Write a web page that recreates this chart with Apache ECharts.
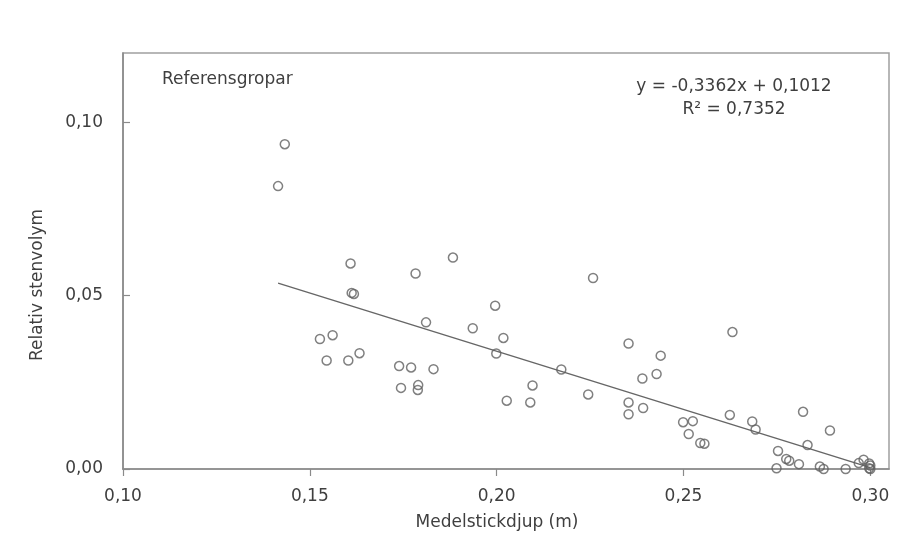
<!DOCTYPE html>
<html>
<head>
<meta charset="utf-8">
<script src="https://cdn.jsdelivr.net/npm/echarts@6/dist/echarts.min.js"></script>
<style>
html,body{margin:0;padding:0;background:#fff;}
#chart{width:922px;height:542px;}
</style>
</head>
<body>
<div id="chart"></div>
<script>
// Medelstickdjup (m)
var depthX = [0.1433,0.1415,0.1609,0.1783,0.1883,0.1612,0.1618,0.2258,0.1811,0.1996,
  0.1936,0.2018,0.1999,0.1527,0.1561,0.1545,0.1603,0.1633,0.1739,0.1771,
  0.1831,0.1744,0.1790,0.1789,0.2173,0.2096,0.2027,0.2090,0.2245,0.2353,
  0.2439,0.2390,0.2428,0.2353,0.2353,0.2392,0.2631,0.2499,0.2525,0.2514,
  0.2545,0.2556,0.2624,0.2684,0.2693,0.2820,0.2892,0.2832,0.2753,0.2775,
  0.2783,0.2809,0.2749,0.2865,0.2875,0.2934,0.2982,0.2969,0.2997,0.2997,
  0.3000,0.3000];
// Relativ stenvolym
var volY = [0.0937,0.0816,0.0593,0.0564,0.0610,0.0508,0.0505,0.0551,0.0423,0.0471,
  0.0406,0.0378,0.0333,0.0375,0.0386,0.0313,0.0313,0.0334,0.0297,0.0293,
  0.0288,0.0234,0.0242,0.0228,0.0287,0.0241,0.0197,0.0192,0.0215,0.0362,
  0.0327,0.0261,0.0274,0.0192,0.0158,0.0176,0.0395,0.0135,0.0138,0.0101,
  0.0075,0.0073,0.0156,0.0137,0.0114,0.0165,0.0111,0.0069,0.0052,0.0029,
  0.0024,0.0014,0.0002,0.0007,0.0000,0.0000,0.0027,0.0017,0.0016,0.0002,
  0.0010,0.0000];
// Trend line endpoints (y = -0,3362x + 0,1012)
var trendX = [0.1415, 0.3000];
var trendY = [0.0536, 0.0004];
var xTicks = [0.10, 0.15, 0.20, 0.25, 0.30];
var yTicks = [0.00, 0.05, 0.10];
var titleText = 'Referensgropar';
var eqText = 'y = -0,3362x + 0,1012';
var r2Text = 'R² = 0,7352';
var xName = 'Medelstickdjup (m)';
var yName = 'Relativ stenvolym';

var pts = depthX.map(function (x, i) { return [x, volY[i]]; });
var trend = trendX.map(function (x, i) { return [x, trendY[i]]; });
var fmt = function (v) { return v.toFixed(2).replace('.', ','); };
var FONT = 'DejaVu Sans';
var TXT = '#3f3f3f';
var AX = '#8a8a8a';

var chart = echarts.init(document.getElementById('chart'), null, {renderer: 'canvas'});
chart.setOption({
  backgroundColor: '#ffffff',
  animation: false,
  grid: {left: 123, right: 33, top: 53, bottom: 73, show: true, borderColor: '#a0a0a0', borderWidth: 1.5, containLabel: false},
  xAxis: {
    type: 'value', min: 0.10, max: 0.305, interval: 0.05,
    axisLine: {show: true, lineStyle: {color: AX, width: 1.6}},
    axisTick: {show: true, inside: false, length: 7, lineStyle: {color: AX, width: 1.2}, customValues: xTicks},
    axisLabel: {color: TXT, fontFamily: FONT, fontSize: 17, margin: 19, formatter: fmt, customValues: xTicks},
    splitLine: {show: false}
  },
  yAxis: {
    type: 'value', min: 0, max: 0.12, interval: 0.05,
    axisLine: {show: true, lineStyle: {color: AX, width: 1.6}},
    axisTick: {show: true, inside: true, length: 7, lineStyle: {color: AX, width: 1.2}, customValues: yTicks},
    axisLabel: {color: TXT, fontFamily: FONT, fontSize: 17, margin: 20, formatter: fmt, customValues: yTicks},
    splitLine: {show: false}
  },
  series: [
    {
      type: 'scatter', data: pts, symbol: 'circle', symbolSize: 9,
      itemStyle: {color: 'rgba(255,255,255,0)', borderColor: '#606060', borderWidth: 1.5},
      z: 3
    },
    {
      type: 'line', data: trend, symbol: 'none',
      lineStyle: {color: '#666666', width: 1.4}, z: 2
    }
  ],
  graphic: [
    {type: 'text', left: 162, top: 71, style: {text: titleText, fontFamily: FONT, fontSize: 17, fill: TXT}},
    {type: 'text', x: 734, y: 87, style: {text: eqText, fontFamily: FONT, fontSize: 17, fill: TXT, align: 'center', verticalAlign: 'middle'}},
    {type: 'text', x: 734, y: 110, style: {text: r2Text, fontFamily: FONT, fontSize: 17, fill: TXT, align: 'center', verticalAlign: 'middle'}},
    {type: 'text', x: 497, y: 523, style: {text: xName, fontFamily: FONT, fontSize: 17, fill: TXT, align: 'center', verticalAlign: 'middle'}},
    {type: 'text', x: 38, y: 285, rotation: Math.PI / 2, style: {text: yName, fontFamily: FONT, fontSize: 17, fill: TXT, align: 'center', verticalAlign: 'middle'}}
  ]
});
</script>
</body>
</html>
